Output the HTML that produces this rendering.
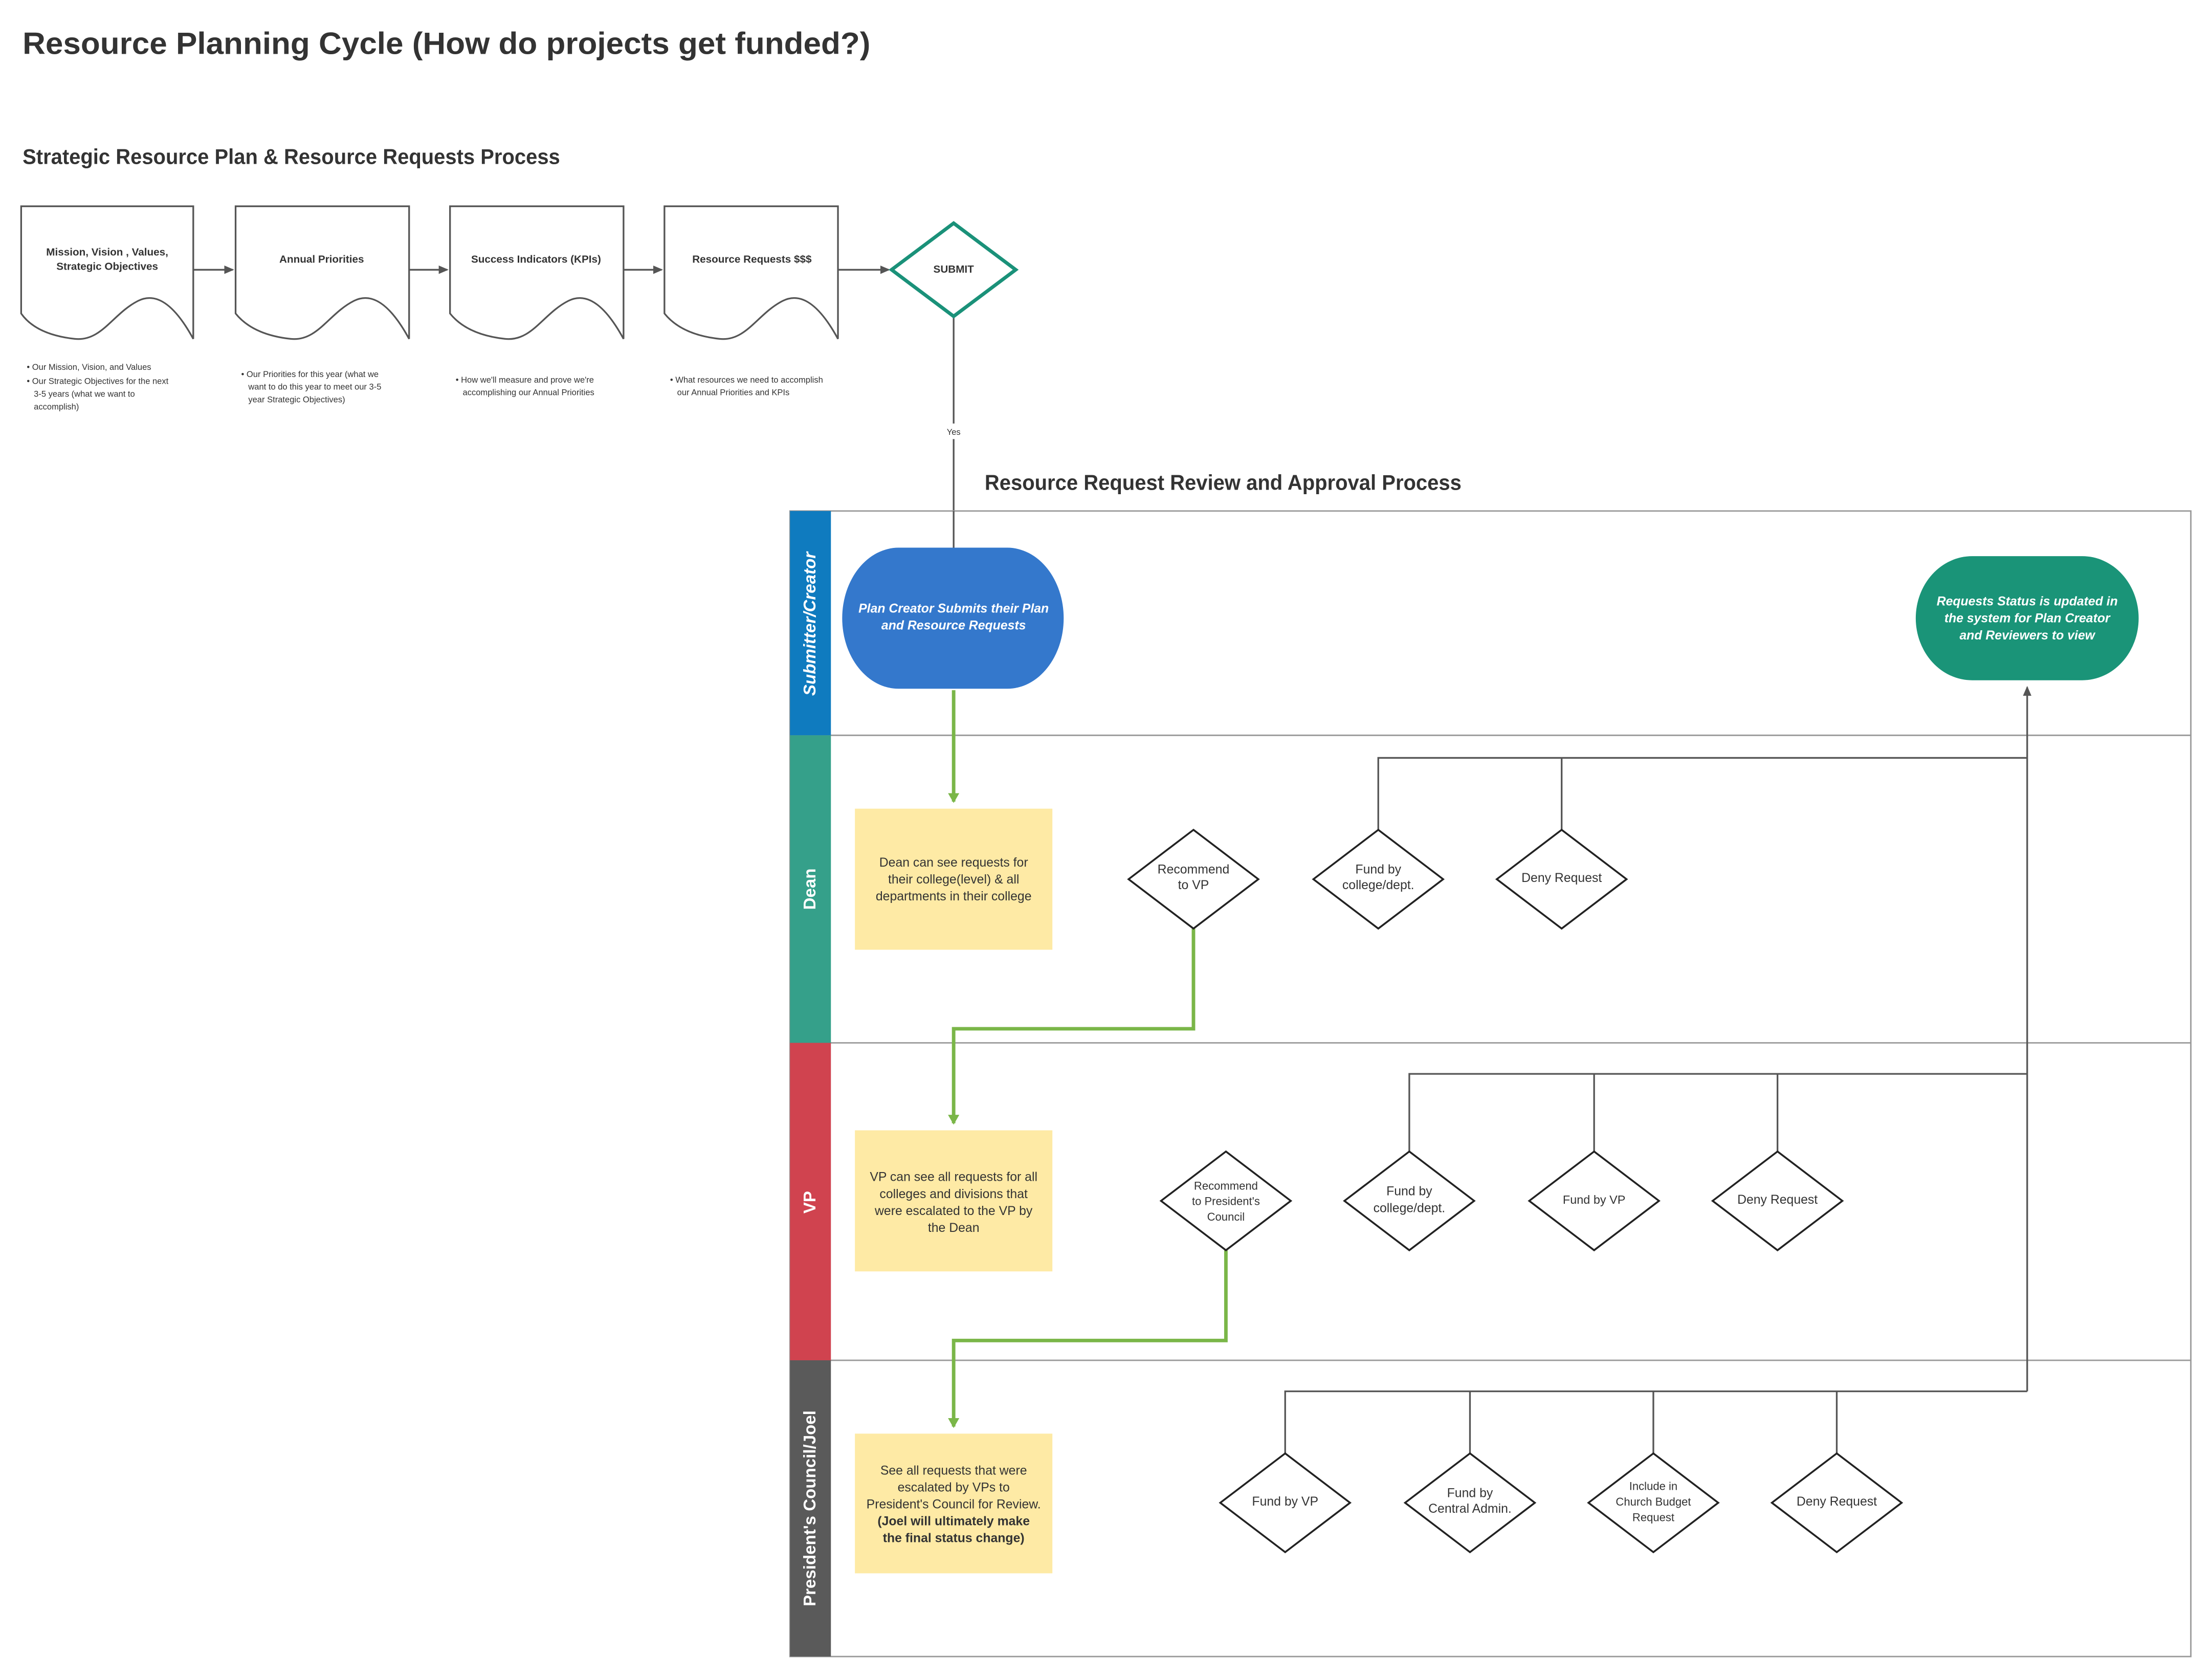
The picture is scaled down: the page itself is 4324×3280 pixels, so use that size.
<!DOCTYPE html>
<html><head><meta charset="utf-8"><style>html,body{margin:0;padding:0;background:#fff}svg{display:block}</style></head><body>
<svg xmlns="http://www.w3.org/2000/svg" width="4324" height="3280" viewBox="0 0 1568 1189" font-family="Liberation Sans, Arial, sans-serif">
<defs>
<marker id="ag" markerWidth="8" markerHeight="8" refX="6" refY="4" orient="auto" markerUnits="userSpaceOnUse"><path d="M0,0 L7,4 L0,8 z" fill="#7ab648"/></marker>
<marker id="ak" markerWidth="8" markerHeight="8" refX="6" refY="4" orient="auto" markerUnits="userSpaceOnUse"><path d="M0,1 L7,4 L0,7 z" fill="#555"/></marker>
</defs>
<rect width="1568" height="1189" fill="#fff"/>
<text x="16" y="38" font-size="22" font-weight="bold" fill="#333" textLength="601" lengthAdjust="spacingAndGlyphs">Resource Planning Cycle (How do projects get funded?)</text>
<text x="16" y="116" font-size="15" font-weight="bold" fill="#333" textLength="381" lengthAdjust="spacingAndGlyphs">Strategic Resource Plan &amp; Resource Requests Process</text>

<g fill="#fff" stroke="#555" stroke-width="1.2">
<path d="M15,146 L137,146 L137,240 C125,218 112,206 98,213 C80,222 72,242 53,240 C35,238 22,232 15,222 Z"/>
<path d="M167,146 L290,146 L290,240 C278,218 265,206 251,213 C233,222 225,242 206,240 C188,238 175,232 167,222 Z"/>
<path d="M319,146 L442,146 L442,240 C430,218 417,206 403,213 C385,222 377,242 358,240 C340,238 327,232 319,222 Z"/>
<path d="M471,146 L594,146 L594,240 C582,218 569,206 555,213 C537,222 529,242 510,240 C492,238 479,232 471,222 Z"/>
</g>
<g stroke="#555" stroke-width="1.2" fill="none">
<line x1="137" y1="191" x2="165" y2="191" marker-end="url(#ak)"/>
<line x1="290" y1="191" x2="317" y2="191" marker-end="url(#ak)"/>
<line x1="442" y1="191" x2="469" y2="191" marker-end="url(#ak)"/>
<line x1="594" y1="191" x2="630" y2="191" marker-end="url(#ak)"/>
<line x1="676" y1="224" x2="676" y2="300"/>
<line x1="676" y1="311" x2="676" y2="388"/>
</g>
<polygon points="676,158 720,191 676,224 632,191" fill="#fff" stroke="#1a9179" stroke-width="2.5"/>
<g font-size="7.5" font-weight="bold" fill="#333" text-anchor="middle">
<text x="76" y="181">Mission, Vision , Values,</text><text x="76" y="191">Strategic Objectives</text>
<text x="228" y="186">Annual Priorities</text>
<text x="380" y="186">Success Indicators (KPIs)</text>
<text x="533" y="186">Resource Requests $$$</text>
<text x="676" y="193">SUBMIT</text>
</g>
<text x="676" y="308" font-size="6" fill="#333" text-anchor="middle">Yes</text>
<g font-size="6" fill="#333">
<text x="19" y="262">• Our Mission, Vision, and Values</text>
<text x="19" y="272">• Our Strategic Objectives for the next</text>
<text x="24" y="281">3-5 years (what we want to</text>
<text x="24" y="290">accomplish)</text>
<text x="171" y="267">• Our Priorities for this year (what we</text>
<text x="176" y="276">want to do this year to meet our 3-5</text>
<text x="176" y="285">year Strategic Objectives)</text>
<text x="323" y="271">• How we'll measure and prove we're</text>
<text x="328" y="280">accomplishing our Annual Priorities</text>
<text x="475" y="271">• What resources we need to accomplish</text>
<text x="480" y="280">our Annual Priorities and KPIs</text>
</g>
<text x="698" y="347" font-size="15" font-weight="bold" fill="#333" textLength="338" lengthAdjust="spacingAndGlyphs">Resource Request Review and Approval Process</text>

<rect x="560" y="362" width="993" height="812" fill="#fff" stroke="#999" stroke-width="1"/>
<g stroke="#999" stroke-width="1"><line x1="560" y1="521" x2="1553" y2="521"/><line x1="560" y1="739" x2="1553" y2="739"/><line x1="560" y1="964" x2="1553" y2="964"/></g>
<rect x="560" y="362" width="29" height="159" fill="#0f7bbf"/>
<rect x="560" y="521" width="29" height="218" fill="#35a08a"/>
<rect x="560" y="739" width="29" height="225" fill="#d0434f"/>
<rect x="560" y="964" width="29" height="210" fill="#5a5a5a"/>
<g fill="#fff" font-size="12" font-weight="bold" text-anchor="middle">
<text transform="translate(578,442) rotate(-90)" font-style="italic">Submitter/Creator</text>
<text transform="translate(578,630) rotate(-90)">Dean</text>
<text transform="translate(578,852) rotate(-90)">VP</text>
<text transform="translate(578,1069) rotate(-90)">President's Council/Joel</text>
</g>
<line x1="676" y1="362" x2="676" y2="388" stroke="#555" stroke-width="1.2"/>

<rect x="597" y="388" width="157" height="100" rx="40" ry="50" fill="#3478cc"/>
<text x="676" y="434" font-size="9" font-weight="bold" font-style="italic" fill="#fff" text-anchor="middle">Plan Creator Submits their Plan</text>
<text x="676" y="446" font-size="9" font-weight="bold" font-style="italic" fill="#fff" text-anchor="middle">and Resource Requests</text>
<rect x="1358" y="394" width="158" height="88" rx="40" ry="44" fill="#1a9478"/>
<g font-size="9" font-weight="bold" font-style="italic" fill="#fff" text-anchor="middle">
<text x="1437" y="429">Requests Status is updated in</text><text x="1437" y="441">the system for Plan Creator</text><text x="1437" y="453">and Reviewers to view</text>
</g>

<g stroke="#7ab648" stroke-width="2.5" fill="none">
<line x1="676" y1="489" x2="676" y2="568" marker-end="url(#ag)"/>
<polyline points="846,658 846,729 676,729 676,796" marker-end="url(#ag)"/>
<polyline points="869,886 869,950 676,950 676,1011" marker-end="url(#ag)"/>
</g>

<g stroke="#555" stroke-width="1.2" fill="none">
<line x1="1437" y1="986" x2="1437" y2="487" marker-end="url(#ak)"/>
<polyline points="977,588 977,537 1437,537"/><line x1="1107" y1="588" x2="1107" y2="537"/>
<polyline points="999,816 999,761 1437,761"/><line x1="1130" y1="816" x2="1130" y2="761"/><line x1="1260" y1="816" x2="1260" y2="761"/>
<polyline points="911,1030 911,986 1437,986"/><line x1="1042" y1="1030" x2="1042" y2="986"/><line x1="1172" y1="1030" x2="1172" y2="986"/><line x1="1302" y1="1030" x2="1302" y2="986"/>
</g>

<g fill="#feeaa5"><rect x="606" y="573" width="140" height="100"/><rect x="606" y="801" width="140" height="100"/><rect x="606" y="1016" width="140" height="99"/></g>
<g font-size="9" fill="#333" text-anchor="middle">
<text x="676" y="614">Dean can see requests for</text><text x="676" y="626">their college(level) &amp; all</text><text x="676" y="638">departments in their college</text>
<text x="676" y="837">VP can see all requests for all</text><text x="676" y="849">colleges and divisions that</text><text x="676" y="861">were escalated to the VP by</text><text x="676" y="873">the Dean</text>
<text x="676" y="1045">See all requests that were</text><text x="676" y="1057">escalated by VPs to</text><text x="676" y="1069">President's Council for Review.</text>
<text x="676" y="1081" font-weight="bold">(Joel will ultimately make</text><text x="676" y="1093" font-weight="bold">the final status change)</text>
</g>

<g fill="#fff" stroke="#222" stroke-width="1.3">
<polygon points="846,588 892,623 846,658 800,623"/><polygon points="977,588 1023,623 977,658 931,623"/><polygon points="1107,588 1153,623 1107,658 1061,623"/>
<polygon points="869,816 915,851 869,886 823,851"/><polygon points="999,816 1045,851 999,886 953,851"/><polygon points="1130,816 1176,851 1130,886 1084,851"/><polygon points="1260,816 1306,851 1260,886 1214,851"/>
<polygon points="911,1030 957,1065 911,1100 865,1065"/><polygon points="1042,1030 1088,1065 1042,1100 996,1065"/><polygon points="1172,1030 1218,1065 1172,1100 1126,1065"/><polygon points="1302,1030 1348,1065 1302,1100 1256,1065"/>
</g>
<g font-size="9" fill="#333" text-anchor="middle">
<text x="846" y="619">Recommend</text><text x="846" y="630">to VP</text>
<text x="977" y="619">Fund by</text><text x="977" y="630">college/dept.</text>
<text x="1107" y="625">Deny Request</text>
<text x="869" y="843" font-size="8">Recommend</text><text x="869" y="854" font-size="8">to President's</text><text x="869" y="865" font-size="8">Council</text>
<text x="999" y="847">Fund by</text><text x="999" y="859">college/dept.</text>
<text x="1130" y="853" font-size="8.5">Fund by VP</text>
<text x="1260" y="853">Deny Request</text>
<text x="911" y="1067">Fund by VP</text>
<text x="1042" y="1061">Fund by</text><text x="1042" y="1072">Central Admin.</text>
<text x="1172" y="1056" font-size="8">Include in</text><text x="1172" y="1067" font-size="8">Church Budget</text><text x="1172" y="1078" font-size="8">Request</text>
<text x="1302" y="1067">Deny Request</text>
</g>
</svg>
</body></html>
